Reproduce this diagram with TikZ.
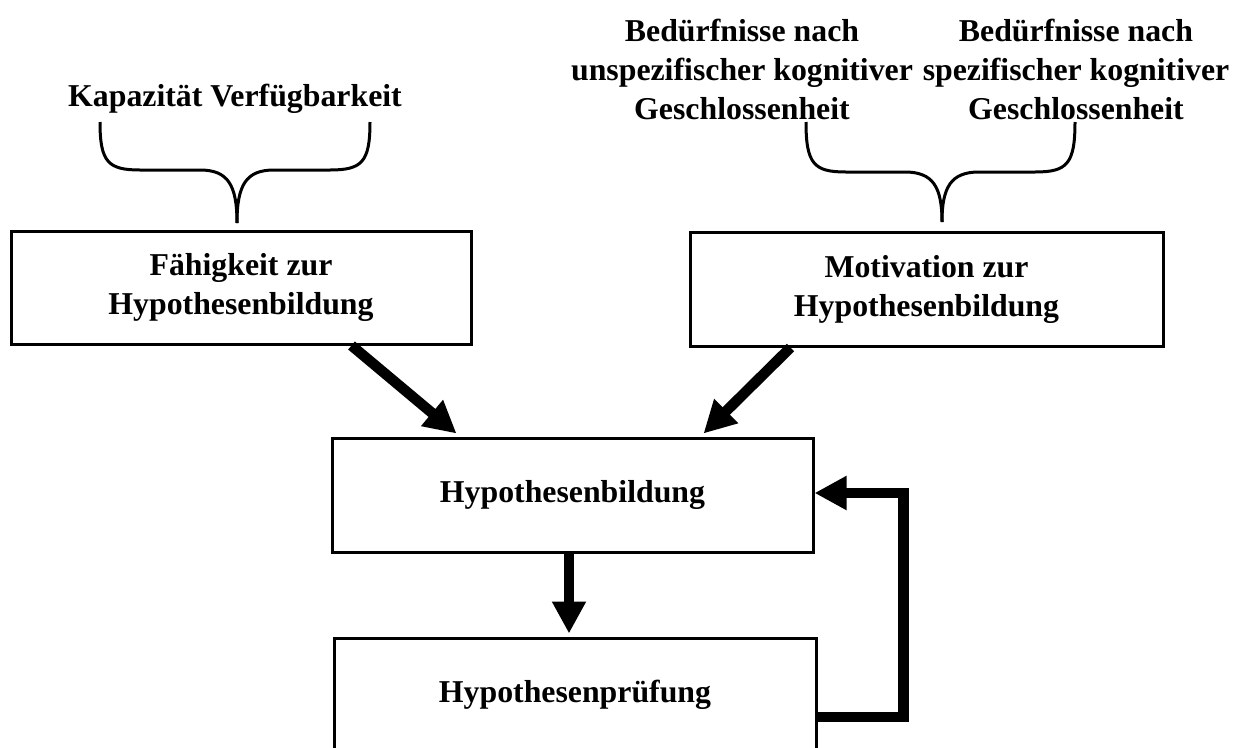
\documentclass[tikz,border=0pt]{standalone}
\usepackage{fontspec}
\setmainfont{Liberation Serif}
\usetikzlibrary{arrows.meta,calc}
\begin{document}
\begin{tikzpicture}[x=1pt,y=-1pt,
  txt/.style={font=\fontsize{31.8}{39}\selectfont\bfseries, align=center, inner sep=0pt},
  box/.style={draw, line width=3pt, txt, minimum width=#1, minimum height=114pt},
  arr/.style={line width=10.5pt, line join=miter, -{Triangle[length=32pt,width=32pt]}},
  brace/.style={line width=3pt}
]
\useasboundingbox (0,0) rectangle (1242,747);
\clip (0,0) rectangle (1242,747);
% boxes
\node[box=460pt, minimum height=113pt] (b1) at (241,287.5) {Fähigkeit zur\\Hypothesenbildung};
\node[box=473pt] (b2) at (926.5,289) {Motivation zur\\Hypothesenbildung};
\node[box=481pt] (b3) at (572.5,495) {Hypothesenbildung};
\node[box=482pt] (b4) at (575,695) {Hypothesenprüfung};
% top texts
\node[txt] (tk) at (235,99) {Kapazität Verfügbarkeit};
\node[txt] (tu) at (742,69) {Bedürfnisse nach\\unspezifischer kognitiver\\Geschlossenheit};
\node[txt] (ts) at (1076,69) {Bedürfnisse nach\\spezifischer kognitiver\\Geschlossenheit};
% braces
\draw[brace] (100,122) .. controls (100,162) and (108,170) .. (140,170) -- (200,170)
  .. controls (228,170) and (237,185) .. (237,223);
\draw[brace] (370,122) .. controls (370,162) and (362,170) .. (330,170) -- (274,170)
  .. controls (246,170) and (237,185) .. (237,223);
\draw[brace] (806,122) .. controls (806,164) and (814,172) .. (846,172) -- (905,172)
  .. controls (933,172) and (942,187) .. (942,222);
\draw[brace] (1075,122) .. controls (1075,164) and (1067,172) .. (1035,172) -- (979,172)
  .. controls (951,172) and (942,187) .. (942,222);
% arrows
\draw[arr] ([xshift=-121pt]b1.south east) -- ([xshift=126pt,yshift=3pt]b3.north west);
\draw[arr] ([xshift=102pt]b2.south west) -- ([xshift=-111pt,yshift=3pt]b3.north east);
\draw[arr] ([xshift=-3.5pt]b3.south) -- ([xshift=-6pt,yshift=3pt]b4.north);
\draw[arr] ([yshift=-22pt]b4.east) -- ++(86,0) |- ([yshift=2pt]b3.east);
\end{tikzpicture}
\end{document}
